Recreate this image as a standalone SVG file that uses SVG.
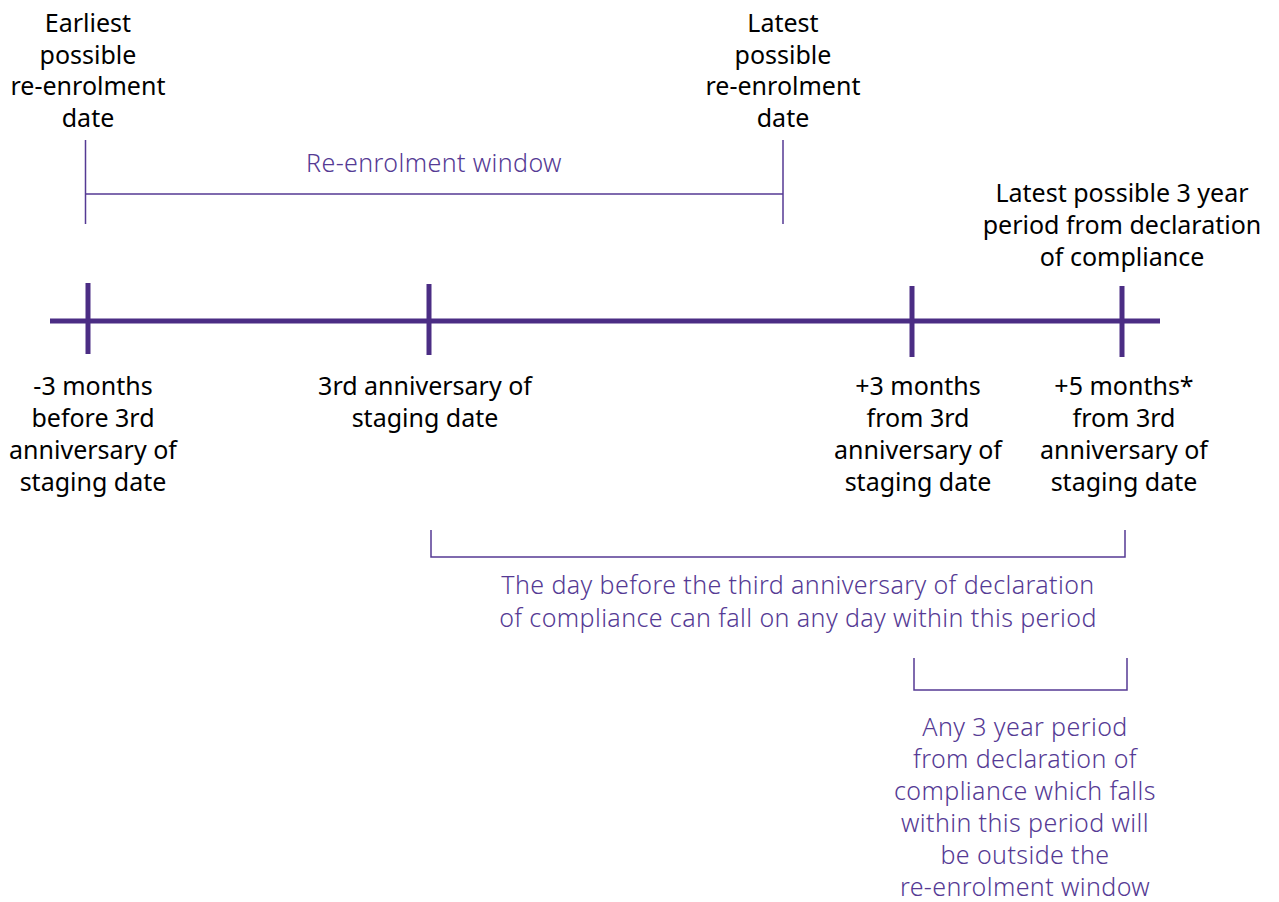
<svg xmlns="http://www.w3.org/2000/svg" width="1279" height="902" viewBox="0 0 1279 902">
<style>
.t{font-family:"Noto Sans","Open Sans","DejaVu Sans",sans-serif;font-size:25px;fill:#000;text-anchor:middle}
.p{font-family:"Noto Sans","Open Sans","DejaVu Sans",sans-serif;font-size:25px;letter-spacing:0.4px;fill:#553a94;text-anchor:middle;font-weight:300}
.axis{stroke:#4b2d84;stroke-width:5;fill:none}
.br{stroke:#553a94;stroke-width:1.5;fill:none}
</style>
<rect width="1279" height="902" fill="#fff"/>
<g id="connectors">
<line class="axis" x1="50" y1="321" x2="1160" y2="321"/>
<path class="br" d="M85.5,140 V224 M85.5,194 H783 M783,140 V224"/>
<path class="br" d="M431,530 V557 H1125 V530"/>
<path class="br" d="M914,658 V690 H1127 V658"/>
</g>
<g id="tick1"><line class="axis" x1="88" y1="283" x2="88" y2="354"/></g>
<g id="tick2"><line class="axis" x1="429" y1="284" x2="429" y2="355"/></g>
<g id="tick3"><line class="axis" x1="912" y1="286" x2="912" y2="357"/></g>
<g id="tick4"><line class="axis" x1="1122" y1="286" x2="1122" y2="357"/></g>
<g id="earliest"><text class="t" x="88" y="32">Earliest</text><text class="t" x="88" y="63.5">possible</text><text class="t" x="88" y="95">re-enrolment</text><text class="t" x="88" y="127">date</text></g>
<g id="latest"><text class="t" x="783" y="32">Latest</text><text class="t" x="783" y="63.5">possible</text><text class="t" x="783" y="95">re-enrolment</text><text class="t" x="783" y="127">date</text></g>
<g id="window"><text class="p" x="434" y="172">Re-enrolment window</text></g>
<g id="latest3yr"><text class="t" x="1122" y="202">Latest possible 3 year</text><text class="t" x="1122" y="234">period from declaration</text><text class="t" x="1122" y="266">of compliance</text></g>
<g id="minus3"><text class="t" x="93" y="395">-3 months</text><text class="t" x="93" y="427">before 3rd</text><text class="t" x="93" y="459">anniversary of</text><text class="t" x="93" y="491">staging date</text></g>
<g id="third"><text class="t" x="425" y="395">3rd anniversary of</text><text class="t" x="425" y="427">staging date</text></g>
<g id="plus3"><text class="t" x="918" y="395">+3 months</text><text class="t" x="918" y="427">from 3rd</text><text class="t" x="918" y="459">anniversary of</text><text class="t" x="918" y="491">staging date</text></g>
<g id="plus5"><text class="t" x="1124" y="395">+5 months*</text><text class="t" x="1124" y="427">from 3rd</text><text class="t" x="1124" y="459">anniversary of</text><text class="t" x="1124" y="491">staging date</text></g>
<g id="dayBefore"><text class="p" x="798" y="594">The day before the third anniversary of declaration</text><text class="p" x="798" y="627">of compliance can fall on any day within this period</text></g>
<g id="any3"><text class="p" x="1025" y="736">Any 3 year period</text><text class="p" x="1025" y="768">from declaration of</text><text class="p" x="1025" y="800">compliance which falls</text><text class="p" x="1025" y="832">within this period will</text><text class="p" x="1025" y="864">be outside the</text><text class="p" x="1025" y="896">re-enrolment window</text></g>
</svg>
